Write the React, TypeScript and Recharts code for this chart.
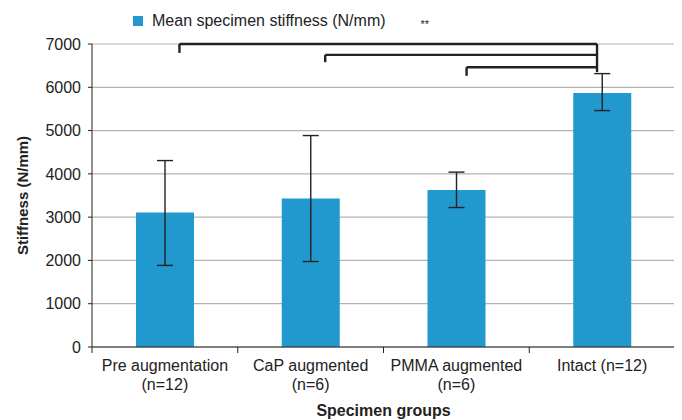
import React from 'react';
import {
  BarChart,
  Bar,
  XAxis,
  YAxis,
  CartesianGrid,
  ErrorBar,
  ReferenceLine,
  Legend,
} from 'recharts';

// Values
const groups = ['Pre augmentation', 'CaP augmented', 'PMMA augmented', 'Intact'];
const tickTop = ['Pre augmentation', 'CaP augmented', 'PMMA augmented', 'Intact (n=12)'];
const tickBottom = ['(n=12)', '(n=6)', '(n=6)', ''];
const meanStiffness = [3105, 3430, 3625, 5870];
const errLower = [1885, 1975, 3222, 5462];
const errUpper = [4307, 4885, 4040, 6316];
const yTicks = [0, 1000, 2000, 3000, 4000, 5000, 6000, 7000];

// significance brackets, x in group index units, y in N/mm
const brackets = [
  { from: 0.1, to: 2.965, level: 7000, drop: 6795 },
  { from: 1.1, to: 2.965, level: 6748, drop: 6580 },
  { from: 2.07, to: 2.965, level: 6464, drop: 6265 },
];
const stem = { x: 2.965, top: 7000, bottom: 6350 };

const FONT = '"Liberation Sans", Arial, Helvetica, sans-serif';
const BLUE = '#2199CE';
const INK = '#222222';

const data = groups.map((g, i) => ({
  group: g,
  pos: i,
  mean: meanStiffness[i],
  err: [meanStiffness[i] - errLower[i], errUpper[i] - meanStiffness[i]],
}));

const GroupTick = (props: any) => {
  const { x, y, payload, index } = props;
  const half = payload && payload.offset ? payload.offset : 0;
  const i = groups.indexOf(payload.value);
  return (
    <g>
      <line x1={x - half} y1={y} x2={x - half} y2={y + 6} stroke={INK} />
      {index === groups.length - 1 && (
        <line x1={x + half} y1={y} x2={x + half} y2={y + 6} stroke={INK} />
      )}
      <text x={x} y={y + 24} textAnchor="middle" fontSize={16} fill={INK} fontFamily={FONT}>
        {tickTop[i]}
      </text>
      {tickBottom[i] && (
        <text x={x} y={y + 43} textAnchor="middle" fontSize={16} fill={INK} fontFamily={FONT}>
          {tickBottom[i]}
        </text>
      )}
    </g>
  );
};

const LegendContent = () => (
  <div style={{ display: 'flex', alignItems: 'center', fontFamily: FONT, color: INK }}>
    <span style={{ width: 10, height: 10, background: BLUE, display: 'inline-block' }} />
    <span style={{ fontSize: 16, marginLeft: 9 }}>Mean specimen stiffness (N/mm)</span>
    <span style={{ fontSize: 11, marginLeft: 35, marginTop: 5 }}>**</span>
  </div>
);

export default function App() {
  return (
    <div style={{ fontFamily: FONT }}>
      <BarChart
        width={674}
        height={412}
        data={data}
        margin={{ top: 36, right: 7, bottom: 0, left: 24 }}
      >
        <CartesianGrid vertical={false} stroke="#b3b3b3" strokeWidth={1.2} />
        <XAxis
          dataKey="group"
          height={73}
          tick={<GroupTick />}
          tickLine={false}
          tickSize={0}
          tickMargin={0}
          interval={0}
          axisLine={{ stroke: INK }}
          label={{
            value: 'Specimen groups',
            position: 'insideBottom',
            offset: 4,
            style: { fontWeight: 'bold', fontSize: 16, fill: INK, fontFamily: FONT },
          }}
        />
        <XAxis
          xAxisId="idx"
          dataKey="pos"
          type="number"
          scale="linear"
          domain={[-0.5, 3.5]}
          allowDataOverflow
          hide
        />
        <YAxis
          width={60}
          domain={[0, 7000]}
          ticks={yTicks}
          interval={0}
          tickSize={4}
          tickMargin={7}
          axisLine={{ stroke: INK }}
          tickLine={{ stroke: INK }}
          tick={{ fontSize: 16, fill: INK, fontFamily: FONT }}
          label={{
            value: 'Stiffness (N/mm)',
            angle: -90,
            position: 'insideLeft',
            offset: -9,
            style: { fontWeight: 'bold', fontSize: 15, fill: INK, fontFamily: FONT, textAnchor: 'middle' },
          }}
        />
        <Legend
          verticalAlign="middle"
          align="center"
          layout="horizontal"
          content={<LegendContent />}
          wrapperStyle={{ top: 4, left: 125, width: 'auto' }}
        />
        <Bar dataKey="mean" fill={BLUE} barSize={58} isAnimationActive={false} legendType="square">
          <ErrorBar dataKey="err" width={8} stroke={INK} strokeWidth={1.4} isAnimationActive={false} />
        </Bar>
        {brackets.map((b, i) => (
          <ReferenceLine
            key={'h' + i}
            xAxisId="idx"
            segment={[
              { x: b.from, y: b.level },
              { x: b.to, y: b.level },
            ]}
            stroke={INK}
            strokeWidth={2.4}
          />
        ))}
        {brackets.map((b, i) => (
          <ReferenceLine
            key={'d' + i}
            xAxisId="idx"
            segment={[
              { x: b.from, y: b.level },
              { x: b.from, y: b.drop },
            ]}
            stroke={INK}
            strokeWidth={2.4}
          />
        ))}
        <ReferenceLine
          xAxisId="idx"
          segment={[
            { x: stem.x, y: stem.top },
            { x: stem.x, y: stem.bottom },
          ]}
          stroke={INK}
          strokeWidth={2.4}
        />
      </BarChart>
    </div>
  );
}
